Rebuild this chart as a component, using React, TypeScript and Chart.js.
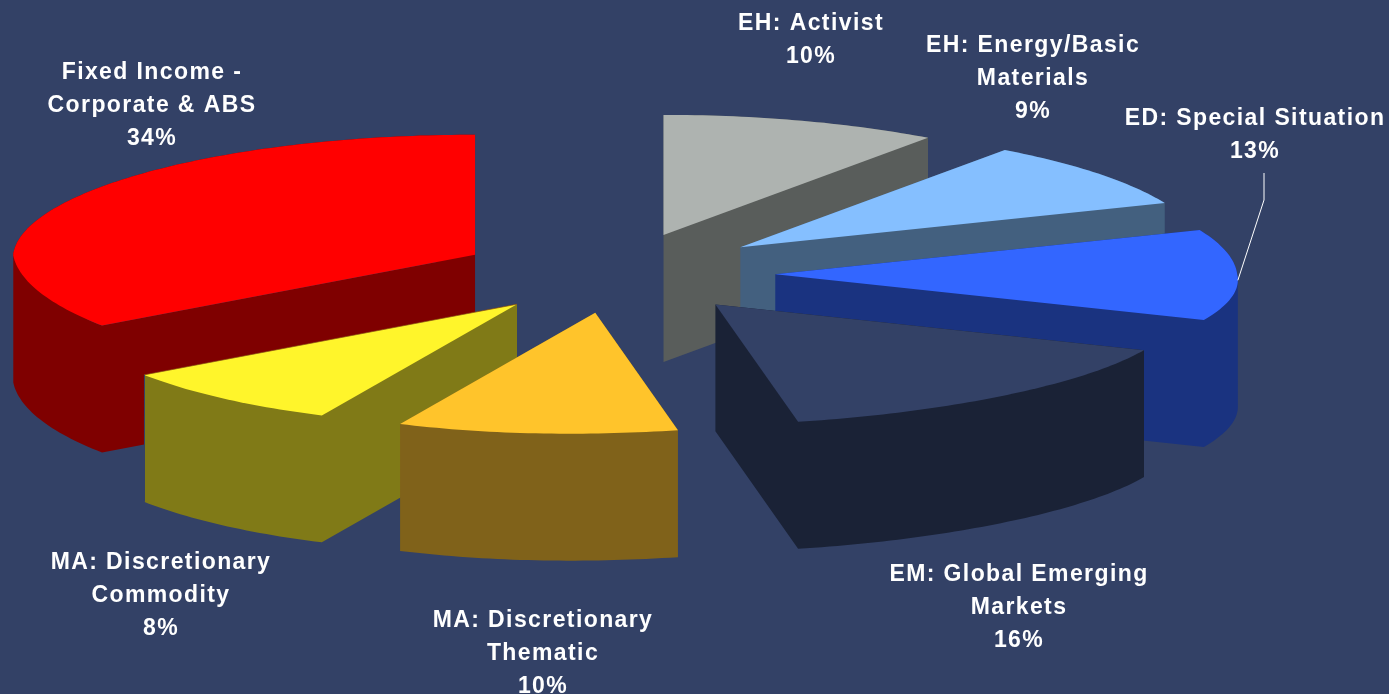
import React, { useEffect, useRef } from "react";
import { Chart, registerables } from "chart.js";

Chart.register(...registerables);

// Allocation by strategy, clockwise from twelve o'clock
const categories = [
  "EH: Activist",
  "EH: Energy/Basic Materials",
  "ED: Special Situation",
  "EM: Global Emerging Markets",
  "MA: Discretionary Thematic",
  "MA: Discretionary Commodity",
  "Fixed Income - Corporate & ABS",
];
const shares = [10, 9, 13, 16, 10, 8, 34];

const topColors = ["#AEB3B0", "#85BFFF", "#3366FF", "#334166", "#FFC42B", "#FFF52B", "#FF0000"];
const sideColors = ["#595D5B", "#43607F", "#1A3380", "#1A2236", "#80621A", "#807A17", "#7F0000"];
// How far each slice is pulled from the centre, as a fraction of the radius
const explodeFractions = [0.3325, 0.35, 0.357, 0.347, 0.33, 0.33, 0.3486];

const labelLines = [
  ["EH: Activist", "10%"],
  ["EH: Energy/Basic", "Materials", "9%"],
  ["ED: Special Situation", "13%"],
  ["EM: Global Emerging", "Markets", "16%"],
  ["MA: Discretionary", "Thematic", "10%"],
  ["MA: Discretionary", "Commodity", "8%"],
  ["Fixed Income -", "Corporate & ABS", "34%"],
];
const labelAnchors = [
  [811, 24],
  [1033, 46],
  [1255, 119],
  [1019, 575],
  [543, 621],
  [161, 563],
  [152, 73],
];

const BACKGROUND = "#334166";
const LINE_HEIGHT = 33;
const SPREAD_X = 1.692; // horizontal radius relative to the chart radius
const SPREAD_Y = 0.44; // vertical radius relative to the chart radius
const DEPTH = 0.465; // slab thickness relative to the chart radius
const SKEW_Y = 0.0513;
const NEAR_LEFT_LEAN = 0.054;

type Pt = { x: number; y: number };

// Oblique view of a point on the unit disc; the near half leans to the right
function tilt(u: number, v: number, leanNear: number, leanFar: number): Pt {
  const narrowing = 1 - 0.032 * Math.max(v, 0);
  const nearLeft = u < 0 && v < 0 ? NEAR_LEFT_LEAN * u * v * -v : 0;
  return {
    x: SPREAD_X * u * narrowing + leanNear * Math.max(-v, 0) + leanFar * Math.max(v, 0) + nearLeft,
    y: -SPREAD_Y * v + (v < 0 ? SKEW_Y * u * v : 0),
  };
}

const angleToUnit = (a: number) => ({ u: Math.cos(a), v: -Math.sin(a) });

function slicePolygon(arc: any, explode: number): Pt[] {
  const R = arc.outerRadius;
  const mid = (arc.startAngle + arc.endAngle) / 2;
  const m = angleToUnit(mid);
  const pull = tilt(m.u, m.v, 0.146, 0.087);
  // Slices pulled toward the far left settle slightly lower
  if (m.u < 0 && m.v > 0) pull.y -= 0.05 * m.u * m.v;
  const apex = { x: arc.x + pull.x * explode * R, y: arc.y + pull.y * explode * R };
  const pts: Pt[] = [apex];
  const steps = Math.max(2, Math.round(((arc.endAngle - arc.startAngle) * 180) / Math.PI));
  for (let i = 0; i <= steps; i++) {
    const a = arc.startAngle + ((arc.endAngle - arc.startAngle) * i) / steps;
    const { u, v } = angleToUnit(a);
    const p = tilt(u, v, 0.0916, 0);
    pts.push({ x: apex.x + p.x * R, y: apex.y + p.y * R });
  }
  return pts;
}

const tracePoly = (ctx: CanvasRenderingContext2D, pts: Pt[]) => {
  ctx.beginPath();
  pts.forEach((p, i) => (i ? ctx.lineTo(p.x, p.y) : ctx.moveTo(p.x, p.y)));
  ctx.closePath();
};

// One path for all side quads, each wound the same way, so the fill has no seams
function fillSides(ctx: CanvasRenderingContext2D, pts: Pt[], depth: number) {
  ctx.beginPath();
  pts.forEach((p, k) => {
    const q = pts[(k + 1) % pts.length];
    const down = { x: q.x, y: q.y + depth };
    const pDown = { x: p.x, y: p.y + depth };
    const quad = q.x >= p.x ? [p, q, down, pDown] : [q, p, pDown, down];
    quad.forEach((c, n) => (n ? ctx.lineTo(c.x, c.y) : ctx.moveTo(c.x, c.y)));
    ctx.closePath();
  });
  ctx.fill("nonzero");
}

// Paints the pie's arc elements as raised, pulled-apart slabs, back to front
const slabPlugin = {
  id: "slabPie",
  beforeDatasetDraw(chart: any) {
    const ctx: CanvasRenderingContext2D = chart.ctx;
    const arcs = chart.getDatasetMeta(0).data;
    const slabs = arcs.map((arc: any, i: number) => ({
      i,
      pts: slicePolygon(arc, explodeFractions[i]),
      depth: DEPTH * arc.outerRadius,
    }));
    slabs.sort((a: any, b: any) => a.pts[0].y - b.pts[0].y);
    for (const { i, pts, depth } of slabs) {
      ctx.save();
      ctx.fillStyle = sideColors[i];
      fillSides(ctx, pts, depth);
      tracePoly(ctx, pts);
      ctx.fillStyle = topColors[i];
      ctx.fill();
      if (i === 5) {
        // Hairlines on the commodity slice: its inner top edge and the corner of its side faces
        const apex = pts[0];
        const tip = pts[pts.length - 1];
        const cornerX = Math.round(tip.x) + 0.5;
        ctx.lineWidth = 0.7;
        ctx.strokeStyle = "#8A4A10";
        ctx.beginPath();
        ctx.moveTo(apex.x, apex.y);
        ctx.lineTo(tip.x, tip.y);
        ctx.stroke();
        ctx.lineWidth = 1;
        ctx.strokeStyle = BACKGROUND;
        ctx.beginPath();
        ctx.moveTo(cornerX, tip.y);
        ctx.lineTo(cornerX, tip.y + depth);
        ctx.stroke();
      }
      ctx.restore();
    }
    return false;
  },
  afterDraw(chart: any) {
    const ctx: CanvasRenderingContext2D = chart.ctx;
    ctx.save();
    ctx.fillStyle = "#FFFFFF";
    ctx.font = 'bold 23px "Liberation Sans", Arial, sans-serif';
    (ctx as any).letterSpacing = "1.4px";
    ctx.textAlign = "center";
    ctx.textBaseline = "middle";
    labelLines.forEach((lines, i) => {
      lines.forEach((line, k) => {
        ctx.fillText(line, labelAnchors[i][0], labelAnchors[i][1] + k * LINE_HEIGHT);
      });
    });
    // Leader from the Special Situation label to its slice's outer edge
    const arc = chart.getDatasetMeta(0).data[2];
    const pts = slicePolygon(arc, explodeFractions[2]);
    const edge = pts.reduce((best: Pt, p: Pt) => (p.x > best.x ? p : best), pts[0]);
    ctx.strokeStyle = "#FFFFFF";
    ctx.lineWidth = 1;
    ctx.beginPath();
    ctx.moveTo(1264, 173);
    ctx.lineTo(1264, 200);
    ctx.lineTo(edge.x, edge.y);
    ctx.stroke();
    ctx.restore();
  },
};

export default function App() {
  const ref = useRef<HTMLCanvasElement>(null);
  useEffect(() => {
    document.body.style.margin = "0";
    document.body.style.overflow = "hidden";
    const chart = new Chart(ref.current!, {
      type: "pie",
      data: {
        labels: categories,
        datasets: [{ data: shares, backgroundColor: topColors, borderWidth: 0 }],
      },
      options: {
        animation: false,
        responsive: false,
        layout: { padding: { left: 0, top: 0, right: 169, bottom: 148 } },
        plugins: { legend: { display: false }, tooltip: { enabled: false } },
      },
      plugins: [slabPlugin],
    } as any);
    return () => chart.destroy();
  }, []);
  return (
    <div style={{ width: 1389, height: 694, background: BACKGROUND }}>
      <canvas ref={ref} width={1389} height={694} style={{ display: "block" }} />
    </div>
  );
}
